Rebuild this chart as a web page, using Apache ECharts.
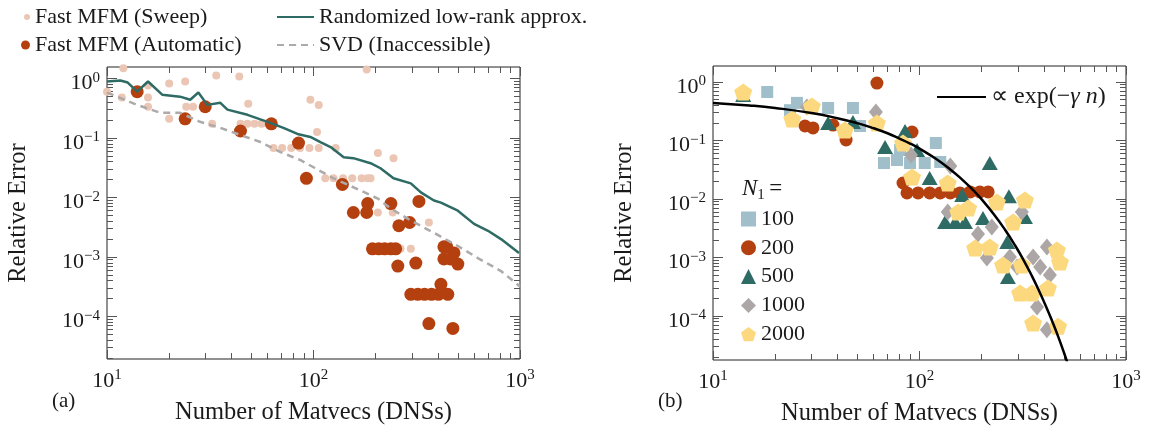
<!DOCTYPE html>
<html><head><meta charset="utf-8">
<script src="https://cdn.jsdelivr.net/npm/echarts@6/dist/echarts.min.js"></script>
<style>html,body{margin:0;padding:0;background:#fff}#c{width:1154px;height:433px}</style>
</head><body><div id="c"></div>
<script>
// ---------- data ----------
const xTicks = [10, 100, 1000];
const yTicks = [1e-4, 1e-3, 1e-2, 1e-1, 1];

// panel (a)
const sweep = [[12.0,1.48],[10.0,0.60],[11.8,0.48],[15.8,0.76],[15.8,0.48],[15.8,0.335],[20.0,0.82],[20.0,0.21],
  [23.9,0.89],[24.2,0.335],[26.1,0.335],[33.8,1.12],[43.7,1.08],[48.3,0.377],[32.3,0.173],[44.3,0.173],[47.9,0.173],
  [51.8,0.173],[56.0,0.173],[59.9,0.173],[96.6,0.44],[106,0.36],[104,0.126],[181,1.42],[64,0.0677],[70.5,0.0677],
  [78,0.0677],[86,0.0677],[95.6,0.0677],[106,0.0677],[128,0.0677],[205,0.0557],[244,0.0458],[114,0.021],[125,0.021],
  [139,0.021],[154,0.021],[171,0.021],[189,0.021],[183,0.021],[205,0.0056],[242,0.0056],[362,0.0038],[264,0.00137],[296,0.00137]];
const automatic = [[14.0,0.60],[23.9,0.21],[29.9,0.335],[44.3,0.131],[62.5,0.173],[84.6,0.082],[92.4,0.021],[138,0.0166],
  [183,0.0079],[237,0.0079],[324,0.0086],[156,0.0056],[181,0.0056],[259,0.00335],[292,0.0038],[193,0.00137],[207,0.00137],
  [221,0.00137],[237,0.00137],[250,0.00137],[256,0.000703],[313,0.00079],[428,0.00148],[442,0.00148],[479,0.00117],
  [428,0.00093],[500,0.00076],[460,0.00093],[414,0.000348],[296,0.000236],[320,0.000236],[345,0.000236],[373,0.000236],
  [403,0.000236],[447,0.000236],[362,7.6e-5],[473,6.3e-5]];
const randomized = [[10,0.89],[11.6,0.925],[12.6,0.855],[14.0,0.60],[15.8,0.89],[18.5,0.535],[22.6,0.495],[25.3,0.44],
  [27.7,0.58],[30.6,0.36],[35.4,0.39],[38.3,0.30],[47.9,0.245],[59.9,0.187],[71.5,0.148],[83.6,0.117],[96.6,0.104],
  [108,0.0856],[121,0.0704],[140,0.0476],[156,0.0458],[189,0.0377],[211,0.031],[244,0.021],[296,0.0173],[331,0.0122],
  [383,0.0089],[414,0.0082],[500,0.0060],[599,0.0036],[700,0.00276],[809,0.0020],[989,0.00117]];
const svd = [[10,0.58],[14,0.36],[18.1,0.265],[22.6,0.265],[28.2,0.187],[35.4,0.148],[44.3,0.112],[55.3,0.0856],
  [69.2,0.058],[86.5,0.0424],[100,0.0322],[125,0.021],[169,0.0131],[205,0.0096],[237,0.0065],[296,0.0041],[383,0.00255],
  [500,0.00153],[625,0.00096],[809,0.00058],[1000,0.00032]];

// panel (b)
const n100 = [[18.3,0.675],[25.5,0.44],[23.6,0.33],[36.1,0.36],[47.6,0.36],[51.5,0.177],[67.3,0.0412],[77.8,0.0464],
  [90,0.0412],[106,0.0412],[126,0.043],[120,0.0906],[80.5,0.0688]];
const n200 = [[62.2,0.96],[27.9,0.177],[30.5,0.164],[38.1,0.184],[44.1,0.102],[92,0.14],[83.2,0.0188],[87,0.0127],
  [98.4,0.0127],[112,0.0127],[126,0.0127],[141,0.0127],[157,0.0127],[176,0.0132],[196,0.0132],[215,0.0132]];
const n500 = [[14.0,0.60],[36.1,0.199],[47.6,0.207],[68.1,0.0774],[85.1,0.145],[97.3,0.0688],[112,0.0229],[219,0.0412],
  [161,0.0117],[271,0.0112],[133,0.00404],[149,0.00404],[166,0.00404],[203,0.00473],[324,0.00492],[266,0.00184],[268,0.000464]];
const n1000 = [[28.5,0.374],[61.5,0.307],[91,0.0565],[141,0.0367],[137,0.006],[192,0.00252],[224,0.00332],[313,0.006],
  [212,0.00098],[274,0.00102],[297,0.00069],[355,0.00102],[384,0.00069],[414,0.00151],[428,0.0005],[371,0.000143],[414,5.8e-5]];
const n2000 = [[14.0,0.675],[24.2,0.233],[30.1,0.389],[43.5,0.151],[62.2,0.199],[83.2,0.0906],[92,0.0238],[137,0.0188],
  [172,0.00702],[154,0.006],[237,0.0089],[324,0.0096],[284,0.00404],[186,0.00145],[219,0.00151],[254,0.000745],
  [313,0.000745],[307,0.000247],[351,0.000247],[419,0.000301],[463,0.00134],[479,0.00084],[355,7.6e-5],[469,6.7e-5]];
const expFit = [[10,0.44],[15,0.398],[20,0.36],[30,0.295],[40,0.241],[50,0.198],[60,0.162],[70,0.133],[80,0.108],
  [90,0.0889],[100,0.0727],[120,0.0487],[140,0.0327],[160,0.0219],[180,0.0147],[200,0.00984],[230,0.00539],[260,0.00295],
  [290,0.00162],[320,0.000887],[350,0.000486],[380,0.000266],[410,0.000146],[440,8.0e-5],[470,4.4e-5],[500,2.4e-5],[530,1.3e-5]];

// ---------- styling ----------
const SERIF = 'Liberation Serif';
const TXT = '#1a1a1a';
const TICK = '#555';
const C_SWEEP = '#ecc6b4', C_AUTO = '#b5400f', C_TEAL = '#2e6b65', C_GRAY = '#aeaaa9';
const C_SQ = '#a0bfca', C_DI = '#aca7a6', C_PENT = '#fcd97e';
const PENT = 'path://M50,0 L97.6,34.5 L79.4,90.5 L20.6,90.5 L2.4,34.5 Z';

function minorTicks(lo, hi){ const o=[]; for(let k=lo;k<hi;k++) for(let m=2;m<=9;m++) o.push(m*Math.pow(10,k)); return o; }
const xMinor = minorTicks(1,3);
const yMinor = minorTicks(-5,1);

function supFmt(v){ const e=Math.round(Math.log10(v)); return '{b|10}{s|'+(e<0?'\u2212'+(-e):String(e))+'}'; }
const rich = {
  b:{fontFamily:SERIF,fontSize:22,color:TXT,lineHeight:24,verticalAlign:'bottom'},
  s:{fontFamily:SERIF,fontSize:15,color:TXT,lineHeight:12,verticalAlign:'top'}
};
const nameStyle = {fontFamily:SERIF,fontSize:24.5,color:TXT};

function axes(dim, g, min, max, majors, minors, name){
  const pos = dim==='x' ? ['bottom','top'] : ['left','right'];
  const base = {type:'log', logBase:10, min, max, gridIndex:g, axisLine:{show:false}, splitLine:{show:false},
    minorTick:{show:false}, minorSplitLine:{show:false}};
  const maj = {show:true, inside:true, length:dim==='x'?9:10, customValues:majors, lineStyle:{color:TICK,width:1}};
  const mino = {show:true, inside:true, length:6, customValues:minors, lineStyle:{color:TICK,width:1}};
  const first = Object.assign({}, base, {position:pos[0], axisTick:maj,
    axisLabel:{show:true, customValues:majors, formatter:supFmt, rich, margin: dim==='x'?9:7,
      padding: dim==='x'?0:[8,0,0,0]},
    name, nameLocation:'middle', nameGap: dim==='x'?41:76, nameTextStyle:nameStyle});
  return [first,
    Object.assign({}, base, {position:pos[0], axisTick:mino, axisLabel:{show:false}}),
    Object.assign({}, base, {position:pos[1], axisTick:maj, axisLabel:{show:false}}),
    Object.assign({}, base, {position:pos[1], axisTick:mino, axisLabel:{show:false}})];
}

const xAxis = [].concat(
  axes('x',0,10,1000,xTicks,xMinor,'Number of Matvecs (DNSs)'),
  axes('x',1,10,1000,xTicks,xMinor,'Number of Matvecs (DNSs)'));
const yAxis = [].concat(
  axes('y',0,Math.pow(10,-4.714),Math.pow(10,0.193),yTicks,yMinor,'Relative Error'),
  axes('y',1,Math.pow(10,-4.752),Math.pow(10,0.274),yTicks,yMinor,'Relative Error'));

const gridStyle = {show:true, borderColor:'#222', borderWidth:1, backgroundColor:'transparent', containLabel:false};
const plain = {fontFamily:SERIF,fontWeight:'normal',color:TXT};
const legTxt = {fontFamily:SERIF, fontSize:22, lineHeight:26, color:TXT};
function leg(name,left,top,w,h){
  return {data:[name],left,top,padding:0,itemWidth:w,itemHeight:h,textStyle:legTxt,selectedMode:false};
}

const option = {
  animation:false,
  backgroundColor:'#fff',
  grid:[
    Object.assign({left:107,right:634,top:67,bottom:74}, gridStyle),
    Object.assign({left:713,right:28,top:66,bottom:73}, gridStyle)
  ],
  xAxis, yAxis,
  title:[
    {text:'(a)', left:52, top:389, padding:0, textStyle:Object.assign({fontSize:21,lineHeight:24},plain)},
    {text:'(b)', left:658, top:389, padding:0, textStyle:Object.assign({fontSize:21,lineHeight:24},plain)},
    {text:'{i|N}{sub|1} {t|=}', left:742, top:177, padding:0,
      textStyle:Object.assign({rich:{
        i:Object.assign({fontStyle:'italic',fontSize:23,lineHeight:26,verticalAlign:'top'},plain),
        sub:Object.assign({fontSize:15,lineHeight:14,verticalAlign:'bottom'},plain),
        t:Object.assign({fontSize:23,lineHeight:26,verticalAlign:'top'},plain)}},plain)}
  ],
  legend:[
    leg('Fast MFM (Sweep)',24,4,6,6),
    leg('Fast MFM (Automatic)',21,32,9,9),
    leg('Randomized low-rank approx.',276,4,37,2),
    leg('SVD (Inaccessible)',276,32,37,2),
    {data:['fit'], left:936, top:83, padding:0, itemWidth:49, itemHeight:2, selectedMode:false,
      formatter:()=>'{t|\u221d exp(\u2212}{i|\u03b3 n}{t|)}',
      textStyle:{fontFamily:SERIF, fontSize:24, lineHeight:28, color:TXT, rich:{
        t:{fontFamily:SERIF,fontSize:24,lineHeight:28,color:TXT},
        i:{fontFamily:SERIF,fontStyle:'italic',fontSize:24,lineHeight:28,color:TXT}}}},
    {data:['100','200','500','1000','2000'], left:741, top:206, orient:'vertical', padding:0, itemWidth:15, itemHeight:15,
      itemGap:2.8, textStyle:legTxt, selectedMode:false}
  ],
  series:[
    {name:'Fast MFM (Sweep)', type:'scatter', xAxisIndex:0, yAxisIndex:0, data:sweep, symbol:'circle', symbolSize:8,
      itemStyle:{color:C_SWEEP,opacity:1}, z:2},
    {name:'Fast MFM (Automatic)', type:'scatter', xAxisIndex:0, yAxisIndex:0, data:automatic, symbol:'circle', symbolSize:13,
      itemStyle:{color:C_AUTO,opacity:1}, z:3},
    {name:'Randomized low-rank approx.', type:'line', xAxisIndex:0, yAxisIndex:0, data:randomized, symbol:'none',
      lineStyle:{color:C_TEAL,width:2.5}, itemStyle:{color:C_TEAL}, z:5},
    {name:'SVD (Inaccessible)', type:'line', xAxisIndex:0, yAxisIndex:0, data:svd, symbol:'none',
      lineStyle:{color:C_GRAY,width:2.5,type:[7,5]}, itemStyle:{color:C_GRAY}, z:4},

    {name:'100', type:'scatter', xAxisIndex:4, yAxisIndex:4, data:n100, symbol:'rect', symbolSize:12, itemStyle:{color:C_SQ,opacity:1}, z:2},
    {name:'200', type:'scatter', xAxisIndex:4, yAxisIndex:4, data:n200, symbol:'circle', symbolSize:13, itemStyle:{color:C_AUTO,opacity:1}, z:3},
    {name:'500', type:'scatter', xAxisIndex:4, yAxisIndex:4, data:n500, symbol:'triangle', symbolSize:[16,14], itemStyle:{color:C_TEAL,opacity:1}, z:4},
    {name:'1000', type:'scatter', xAxisIndex:4, yAxisIndex:4, data:n1000, symbol:'diamond', symbolSize:[14,17], itemStyle:{color:C_DI,opacity:1}, z:5},
    {name:'2000', type:'scatter', xAxisIndex:4, yAxisIndex:4, data:n2000, symbol:PENT, symbolSize:[18,17], itemStyle:{color:C_PENT,opacity:1}, z:6},
    {name:'fit', type:'line', xAxisIndex:4, yAxisIndex:4, data:expFit, symbol:'none', smooth:true, clip:true,
      lineStyle:{color:'#000',width:2.5}, itemStyle:{color:'#000'}, z:8}
  ]
};
const chart = echarts.init(document.getElementById('c'), null, {renderer:'canvas'});
chart.setOption(option);
</script>
</body></html>
